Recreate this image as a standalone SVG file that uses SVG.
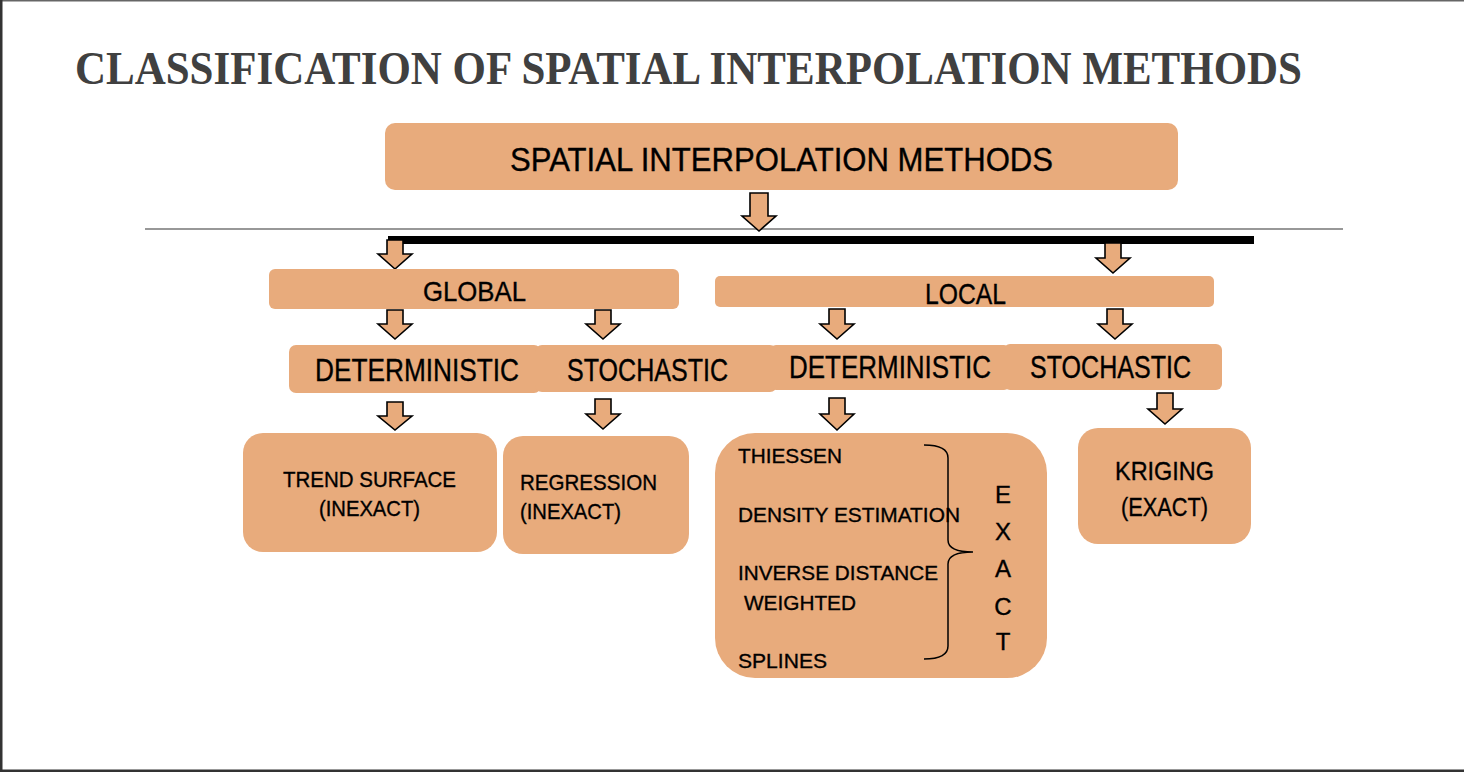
<svg xmlns="http://www.w3.org/2000/svg" width="1464" height="772" viewBox="0 0 1464 772">
  <style>
    .box { fill: #E8AB7C; }
    .arrow { fill: #E8AB7C; stroke: #000; stroke-width: 1.6; stroke-linejoin: miter; }
    .lbl { font-family: "Liberation Sans", Arial, sans-serif; fill: #000; stroke: #000; stroke-width: 0.35; }
    .title { font-family: "Liberation Serif", "Times New Roman", serif; font-weight: bold; fill: #404040; }
  </style>

  <!-- page frame -->
  <rect x="0" y="0" width="1464" height="772" fill="#fff"/>
  <rect x="0" y="0" width="1464" height="1.5" fill="#666"/>
  <rect x="0" y="0" width="2.5" height="772" fill="#333"/>
  <rect x="0" y="769.5" width="1464" height="2.5" fill="#333"/>

  <text class="title" x="75" y="84" font-size="46" textLength="1227" lengthAdjust="spacingAndGlyphs">CLASSIFICATION OF SPATIAL INTERPOLATION METHODS</text>

  <!-- root -->
  <g id="root">
    <rect class="box" x="385" y="123" width="793" height="67" rx="10"/>
    <text class="lbl" x="510" y="171" font-size="33" textLength="543" lengthAdjust="spacingAndGlyphs">SPATIAL INTERPOLATION METHODS</text>
  </g>

  <!-- connectors -->
  <g id="connectors">
    <line x1="145" y1="229" x2="1343" y2="229" stroke="#333" stroke-width="1.2"/>
    <rect x="388" y="236" width="866" height="8" fill="#000"/>
    <path class="arrow" d="M750,193 H768 V216 H776 L759,231 L742,216 H750 Z"/>
    <path class="arrow" d="M387,240 H403 V254 H412 L395,269 L378,254 H387 Z"/>
    <path class="arrow" d="M1105,243 H1121 V258 H1130 L1113,273 L1096,258 H1105 Z"/>
    <path class="arrow" d="M387,310 H403 V324 H412 L395,339 L378,324 H387 Z"/>
    <path class="arrow" d="M595,310 H611 V324 H620 L603,339 L586,324 H595 Z"/>
    <path class="arrow" d="M829,309 H845 V324 H854 L837,339 L820,324 H829 Z"/>
    <path class="arrow" d="M1107,309 H1123 V324 H1132 L1115,339 L1098,324 H1107 Z"/>
    <path class="arrow" d="M387,402 H403 V416 H412 L395,430 L378,416 H387 Z"/>
    <path class="arrow" d="M595,399 H611 V414 H620 L603,429 L586,414 H595 Z"/>
    <path class="arrow" d="M829,398 H845 V414 H854 L837,430 L820,414 H829 Z"/>
    <path class="arrow" d="M1157,393 H1173 V409 H1182 L1165,424 L1148,409 H1157 Z"/>
  </g>

  <!-- second level -->
  <g id="global">
    <rect class="box" x="269" y="269" width="410" height="40" rx="6"/>
    <text class="lbl" x="423" y="301" font-size="28" textLength="103" lengthAdjust="spacingAndGlyphs">GLOBAL</text>
  </g>
  <g id="local">
    <rect class="box" x="715" y="276" width="499" height="31" rx="5"/>
    <text class="lbl" x="925" y="304" font-size="29" textLength="81" lengthAdjust="spacingAndGlyphs">LOCAL</text>
  </g>

  <!-- third level -->
  <g id="global-deterministic">
    <rect class="box" x="289" y="345" width="252" height="48" rx="7"/>
    <text class="lbl" x="315" y="381" font-size="30.5" textLength="204" lengthAdjust="spacingAndGlyphs">DETERMINISTIC</text>
  </g>
  <g id="global-stochastic">
    <rect class="box" x="535" y="345" width="242" height="47" rx="7"/>
    <text class="lbl" x="567" y="381" font-size="30.5" textLength="161" lengthAdjust="spacingAndGlyphs">STOCHASTIC</text>
  </g>
  <g id="local-deterministic">
    <rect class="box" x="770" y="345" width="240" height="45" rx="6"/>
    <text class="lbl" x="789" y="378" font-size="30.5" textLength="202" lengthAdjust="spacingAndGlyphs">DETERMINISTIC</text>
  </g>
  <g id="local-stochastic">
    <rect class="box" x="1004" y="344" width="218" height="46" rx="6"/>
    <text class="lbl" x="1030" y="378" font-size="30.5" textLength="161" lengthAdjust="spacingAndGlyphs">STOCHASTIC</text>
  </g>

  <!-- leaves -->
  <g id="trend-surface">
    <rect class="box" x="243" y="433" width="254" height="119" rx="20"/>
    <text class="lbl" x="283" y="487" font-size="22" textLength="173" lengthAdjust="spacingAndGlyphs">TREND SURFACE</text>
    <text class="lbl" x="319" y="516" font-size="22" textLength="101" lengthAdjust="spacingAndGlyphs">(INEXACT)</text>
  </g>
  <g id="regression">
    <rect class="box" x="503" y="436" width="186" height="118" rx="20"/>
    <text class="lbl" x="520" y="490" font-size="22" textLength="137" lengthAdjust="spacingAndGlyphs">REGRESSION</text>
    <text class="lbl" x="520" y="519" font-size="22" textLength="101" lengthAdjust="spacingAndGlyphs">(INEXACT)</text>
  </g>
  <g id="local-methods">
    <rect class="box" x="715" y="433" width="332" height="245" rx="40"/>
    <text class="lbl" x="738" y="463" font-size="21" textLength="104" lengthAdjust="spacingAndGlyphs">THIESSEN</text>
    <text class="lbl" x="738" y="522" font-size="21" textLength="222" lengthAdjust="spacingAndGlyphs">DENSITY ESTIMATION</text>
    <text class="lbl" x="738" y="580" font-size="21" textLength="200" lengthAdjust="spacingAndGlyphs">INVERSE DISTANCE</text>
    <text class="lbl" x="744" y="610" font-size="21" textLength="112" lengthAdjust="spacingAndGlyphs">WEIGHTED</text>
    <text class="lbl" x="738" y="668" font-size="21" textLength="89" lengthAdjust="spacingAndGlyphs">SPLINES</text>
    <path d="M924,445 Q948,445 948,458 V540 Q948,552 973,552 Q948,552 948,564 V646 Q948,659 924,659" fill="none" stroke="#000" stroke-width="1.5"/>
    <g class="lbl" font-size="24" text-anchor="middle" stroke-width="0.2">
      <text x="1003" y="503">E</text>
      <text x="1003" y="540">X</text>
      <text x="1003" y="577">A</text>
      <text x="1003" y="615">C</text>
      <text x="1003" y="650">T</text>
    </g>
  </g>
  <g id="kriging">
    <rect class="box" x="1078" y="428" width="173" height="116" rx="20"/>
    <text class="lbl" x="1115" y="480" font-size="25" textLength="99" lengthAdjust="spacingAndGlyphs">KRIGING</text>
    <text class="lbl" x="1121" y="516" font-size="25" textLength="87" lengthAdjust="spacingAndGlyphs">(EXACT)</text>
  </g>
</svg>
